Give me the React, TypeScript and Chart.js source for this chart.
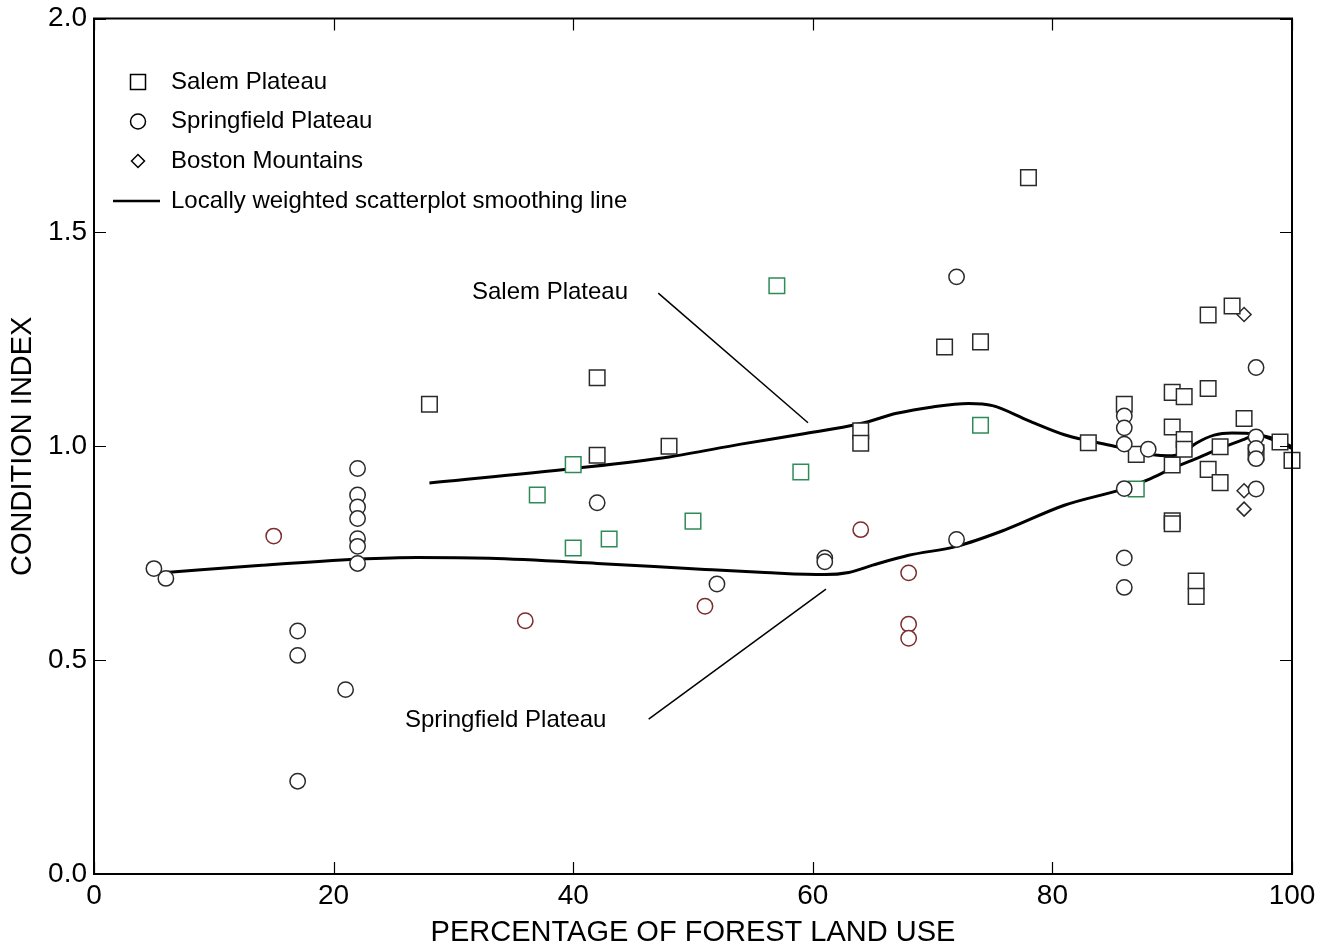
import React, { useEffect, useRef } from 'react';
import { Chart, registerables } from 'chart.js';

Chart.register(...registerables);

const FONT = '"Liberation Sans", Arial, Helvetica, sans-serif';

// ---- data ----
const salemBlackX = [28, 42, 42, 48, 64, 64, 71, 74, 78, 83, 86, 87, 90, 90, 90, 90, 90, 91, 91, 91, 92, 92, 93, 93, 93, 94, 94, 95, 96, 97, 99, 100];
const salemBlackY = [1.098, 1.16, 0.979, 1.0, 1.036, 1.007, 1.232, 1.244, 1.628, 1.008, 1.098, 0.981, 1.126, 1.045, 0.956, 0.826, 0.819, 1.116, 1.016, 0.993, 0.685, 0.649, 1.307, 1.135, 0.946, 0.999, 0.915, 1.328, 1.065, 0.985, 1.01, 0.967];

const salemGreenX = [37, 40, 40, 43, 50, 57, 59, 74, 87];
const salemGreenY = [0.886, 0.957, 0.762, 0.783, 0.825, 1.375, 0.94, 1.049, 0.9];

const springBlackX = [5, 6, 17, 17, 17, 21, 22, 22, 22, 22, 22, 22, 22, 42, 52, 61, 61, 72, 72, 86, 86, 86, 86, 86, 86, 88, 97, 97, 97, 97, 97];
const springBlackY = [0.714, 0.691, 0.568, 0.511, 0.217, 0.431, 0.948, 0.886, 0.858, 0.831, 0.784, 0.766, 0.726, 0.868, 0.678, 0.739, 0.73, 1.396, 0.782, 1.071, 1.043, 1.005, 0.901, 0.739, 0.67, 0.993, 1.184, 1.022, 0.995, 0.971, 0.9];

const springRedX = [15, 36, 51, 64, 68, 68, 68];
const springRedY = [0.79, 0.592, 0.626, 0.805, 0.704, 0.584, 0.551];

const bostonX = [96, 96, 96];
const bostonY = [1.308, 0.896, 0.853];

const salemCurveX = [28, 40, 48, 54, 59, 64, 67, 70, 73, 75, 78, 81, 83, 85, 87, 88.8, 90, 91, 92, 93.5, 95, 97, 98.5, 100];
const salemCurveY = [0.914, 0.948, 0.975, 1.005, 1.028, 1.053, 1.077, 1.092, 1.1, 1.095, 1.06, 1.027, 1.013, 1.001, 0.987, 0.979, 0.978, 0.987, 1.007, 1.026, 1.031, 1.028, 1.014, 0.995];

const springCurveX = [6, 14, 22, 27, 33, 42, 51, 56, 61, 63, 65, 68, 72, 76, 81, 86, 88, 90, 92, 94, 96, 97, 98.5, 100];
const springCurveY = [0.705, 0.722, 0.736, 0.74, 0.738, 0.726, 0.712, 0.705, 0.7, 0.705, 0.722, 0.745, 0.766, 0.804, 0.862, 0.901, 0.922, 0.948, 0.971, 0.995, 1.016, 1.026, 1.018, 0.999];

const xTicks = [0, 20, 40, 60, 80, 100];
const yTicks = [0, 0.5, 1.0, 1.5, 2.0];

const legendLabels = ['Salem Plateau', 'Springfield Plateau', 'Boston Mountains', 'Locally weighted scatterplot smoothing line'];
const xTitle = 'PERCENTAGE OF FOREST LAND USE';
const yTitle = 'CONDITION INDEX';

// annotation labels: text, label anchor (data), pointer line start/end (data)
const annoText = ['Salem Plateau', 'Springfield Plateau'];
const annoTextX = [31.55, 25.96];
const annoTextY = [1.36, 0.359];
const annoLineX1 = [47.1, 46.3];
const annoLineY1 = [1.358, 0.362];
const annoLineX2 = [59.6, 61.1];
const annoLineY2 = [1.055, 0.666];

const pts = (xs: number[], ys: number[]) => xs.map((x, i) => ({ x, y: ys[i] }));

const BLACK = '#2a2a2a';
const GREEN = '#2e8b57';
const RED = '#7b2d2d';

const overlayPlugin = {
  id: 'overlay',
  afterDraw(chart: any) {
    const { ctx, chartArea: ca, scales } = chart;
    const xs = scales.x;
    const ys = scales.y;
    ctx.save();
    // inner ticks
    ctx.strokeStyle = '#000';
    ctx.lineWidth = 1.2;
    const tl = 12;
    ctx.beginPath();
    xTicks.forEach((v) => {
      const px = Math.round(xs.getPixelForValue(v)) + 0.5;
      ctx.moveTo(px, ca.bottom);
      ctx.lineTo(px, ca.bottom - tl);
      ctx.moveTo(px, ca.top);
      ctx.lineTo(px, ca.top + tl);
    });
    yTicks.forEach((v) => {
      const py = Math.round(ys.getPixelForValue(v)) + 0.5;
      ctx.moveTo(ca.left, py);
      ctx.lineTo(ca.left + tl, py);
      ctx.moveTo(ca.right, py);
      ctx.lineTo(ca.right - tl, py);
    });
    ctx.stroke();
    // frame
    ctx.lineWidth = 2;
    ctx.strokeRect(ca.left, ca.top, ca.right - ca.left, ca.bottom - ca.top);

    // annotations
    ctx.fillStyle = '#000';
    ctx.font = `24px ${FONT}`;
    ctx.textBaseline = 'middle';
    ctx.textAlign = 'left';
    ctx.lineWidth = 1.5;
    annoText.forEach((t, i) => {
      ctx.fillText(t, xs.getPixelForValue(annoTextX[i]), ys.getPixelForValue(annoTextY[i]));
      ctx.beginPath();
      ctx.moveTo(xs.getPixelForValue(annoLineX1[i]), ys.getPixelForValue(annoLineY1[i]));
      ctx.lineTo(xs.getPixelForValue(annoLineX2[i]), ys.getPixelForValue(annoLineY2[i]));
      ctx.stroke();
    });

    // legend
    const mx = ca.left + 44;
    const tx = ca.left + 77;
    const rowY = [ca.top + 63.5, ca.top + 103, ca.top + 142.5, ca.top + 182.5];
    ctx.strokeStyle = '#000';
    ctx.lineWidth = 1.5;
    ctx.fillStyle = '#fff';
    // square
    ctx.beginPath();
    ctx.rect(mx - 7.5, rowY[0] - 7.5, 15, 15);
    ctx.fill();
    ctx.stroke();
    // circle
    ctx.beginPath();
    ctx.arc(mx, rowY[1], 7.5, 0, Math.PI * 2);
    ctx.fill();
    ctx.stroke();
    // diamond
    ctx.beginPath();
    ctx.moveTo(mx - 6.5, rowY[2]);
    ctx.lineTo(mx, rowY[2] - 6.5);
    ctx.lineTo(mx + 6.5, rowY[2]);
    ctx.lineTo(mx, rowY[2] + 6.5);
    ctx.closePath();
    ctx.fill();
    ctx.stroke();
    // line
    ctx.lineWidth = 2.5;
    ctx.beginPath();
    ctx.moveTo(ca.left + 19, rowY[3]);
    ctx.lineTo(ca.left + 66, rowY[3]);
    ctx.stroke();
    ctx.fillStyle = '#000';
    legendLabels.forEach((t, i) => ctx.fillText(t, tx, rowY[i]));
    ctx.restore();
  },
};

export default function App() {
  const ref = useRef<HTMLCanvasElement>(null);
  useEffect(() => {
    if (!ref.current) return;
    const scatterBase = {
      showLine: false,
      borderWidth: 1.5,
      backgroundColor: '#ffffff',
      order: 0,
      clip: false,
    };
    const lineBase = {
      showLine: true,
      pointRadius: 0,
      borderColor: '#000',
      borderWidth: 3,
      cubicInterpolationMode: 'monotone' as const,
      fill: false,
      order: 10,
    };
    const chart = new Chart(ref.current, {
      type: 'scatter',
      data: {
        datasets: [
          { ...lineBase, label: 'Salem LOWESS', data: pts(salemCurveX, salemCurveY) },
          { ...lineBase, label: 'Springfield LOWESS', data: pts(springCurveX, springCurveY) },
          { ...scatterBase, label: 'Springfield Plateau', data: pts(springBlackX, springBlackY), pointStyle: 'circle', pointRadius: 7.7, borderColor: BLACK },
          { ...scatterBase, label: 'Springfield Plateau (red)', data: pts(springRedX, springRedY), pointStyle: 'circle', pointRadius: 7.7, borderColor: RED },
          { ...scatterBase, label: 'Salem Plateau', data: pts(salemBlackX, salemBlackY), pointStyle: 'rect', pointRadius: 11, borderColor: BLACK },
          { ...scatterBase, label: 'Salem Plateau (green)', data: pts(salemGreenX, salemGreenY), pointStyle: 'rect', pointRadius: 11, borderColor: GREEN },
          { ...scatterBase, label: 'Boston Mountains', data: pts(bostonX, bostonY), pointStyle: 'rectRot', pointRadius: 7, borderColor: BLACK },
        ] as any,
      },
      options: {
        animation: false,
        responsive: true,
        maintainAspectRatio: false,
        events: [],
        layout: { padding: { top: 18.5, right: 36, left: 0, bottom: 0 } },
        plugins: { legend: { display: false }, tooltip: { enabled: false } },
        scales: {
          x: {
            type: 'linear',
            min: 0,
            max: 100,
            grid: { display: false, drawTicks: false },
            border: { display: false },
            afterBuildTicks: (s: any) => { s.ticks = xTicks.map((v) => ({ value: v })); },
            afterFit: (s: any) => { s.height = 73; },
            ticks: {
              color: '#000',
              padding: 5,
              font: { family: FONT, size: 28, lineHeight: 1.2 },
              callback: (v: any) => String(v),
            },
            title: {
              display: true,
              text: xTitle,
              color: '#000',
              font: { family: FONT, size: 29, lineHeight: 1.0 },
              padding: { top: 0, bottom: 0 },
            },
          },
          y: {
            type: 'linear',
            min: 0,
            max: 2,
            grid: { display: false, drawTicks: false },
            border: { display: false },
            afterBuildTicks: (s: any) => { s.ticks = yTicks.map((v) => ({ value: v })); },
            afterFit: (s: any) => { s.width = 94; },
            ticks: {
              color: '#000',
              padding: 7,
              font: { family: FONT, size: 28, lineHeight: 0.8 },
              callback: (v: any) => Number(v).toFixed(1),
            },
            title: {
              display: true,
              text: yTitle,
              color: '#000',
              font: { family: FONT, size: 29, lineHeight: 1.2 },
              padding: { top: 5.5, bottom: 0 },
            },
          },
        },
      },
      plugins: [overlayPlugin],
    });
    return () => chart.destroy();
  }, []);
  return (
    <div style={{ position: 'fixed', left: 0, top: 0, width: 1328, height: 947, background: '#fff' }}>
      <canvas ref={ref} />
    </div>
  );
}
